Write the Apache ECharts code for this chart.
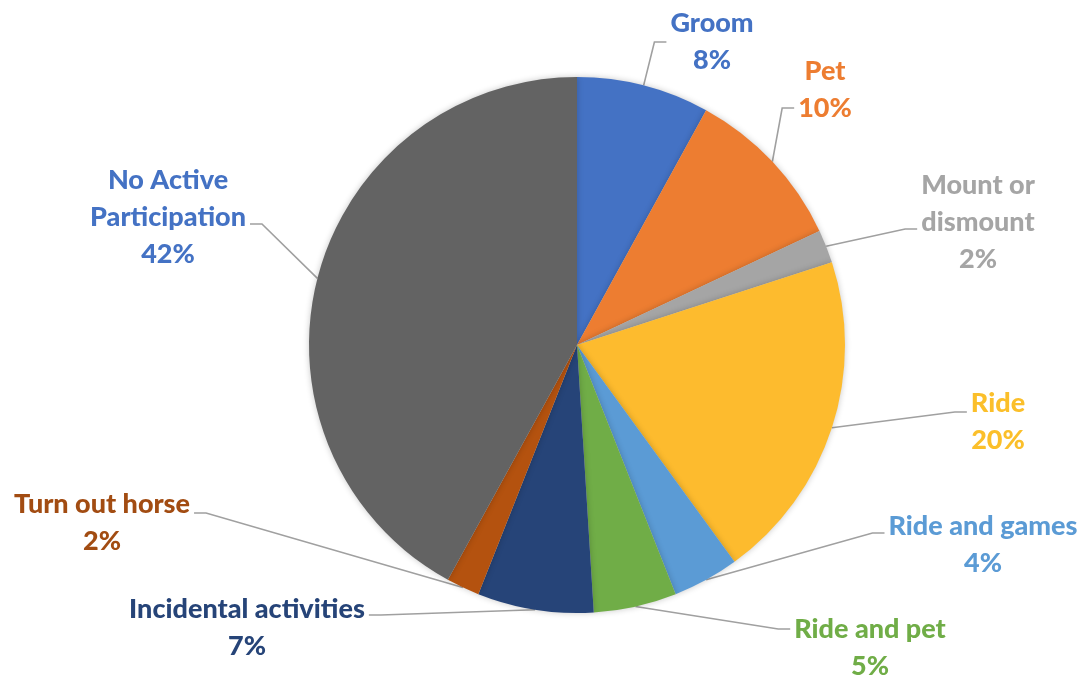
<!DOCTYPE html>
<html><head><meta charset="utf-8">
<script src="https://cdn.jsdelivr.net/npm/echarts@6/dist/echarts.min.js"></script>
<style>html,body{margin:0;padding:0;background:#fff}#c{width:1089px;height:679px}</style>
</head><body><div id="c"></div>
<script>
// ---- data ----
const categories = ['Groom', 'Pet', 'Mount or\ndismount', 'Ride', 'Ride and games', 'Ride and pet', 'Incidental activities', 'Turn out horse', 'No Active\nParticipation'];
const values = [8, 10, 2, 20, 4, 5, 7, 2, 42];

// ---- styles ----
const sliceColors = ['#4472C4', '#ED7D31', '#A5A5A5', '#FDBB2E', '#5B9BD5', '#70AD47', '#264478', '#B4520F', '#636363'];
const labelColors = ['#4472C4', '#ED7D31', '#A5A5A5', '#FBBF2A', '#5B9BD5', '#70AD47', '#264478', '#A24C12', '#4472C4'];
// label placement: centre of label block, side where leader line attaches, vertical offset of attach point
const labelPlace = [
  { x: 712, y: 42,  side: 'left',  dy: 0 },
  { x: 825, y: 90,  side: 'left',  dy: 18 },
  { x: 978, y: 222, side: 'left',  dy: 7 },
  { x: 998, y: 422, side: 'left',  dy: -10 },
  { x: 983, y: 545, side: 'left',  dy: -12 },
  { x: 870, y: 648, side: 'left',  dy: -19 },
  { x: 247, y: 628, side: 'right', dy: -13 },
  { x: 102, y: 523, side: 'right', dy: -10 },
  { x: 168, y: 217, side: 'right', dy: 7 }
];

const chart = echarts.init(document.getElementById('c'));
chart.setOption({
  animation: false,
  backgroundColor: '#ffffff',
  series: [{
    type: 'pie',
    center: [577, 345],
    radius: 268,
    startAngle: 90,
    clockwise: true,
    data: categories.map((name, i) => ({
      name: name,
      value: values[i],
      itemStyle: { color: sliceColors[i] },
      label: { color: labelColors[i] }
    })),
    itemStyle: {
      borderWidth: 0,
      shadowBlur: 6,
      shadowColor: 'rgba(0,0,0,0.22)'
    },
    label: {
      show: true,
      position: 'outside',
      formatter: p => p.name + '\n' + p.value + '%',
      fontFamily: 'Lato',
      fontWeight: 900,
      fontSize: 27,
      lineHeight: 37,
      align: 'center'
    },
    labelLine: {
      show: true,
      length: 20,
      length2: 20,
      lineStyle: { color: '#A0A0A0', width: 1.6 }
    },
    labelLayout: function (p) {
      const s = labelPlace[p.dataIndex];
      const w = p.labelRect.width;
      const ex = s.side === 'left' ? s.x - w / 2 - 4 : s.x + w / 2 + 4;
      const ey = s.y + s.dy;
      const bx = s.side === 'left' ? ex - 12 : ex + 12;
      const p0 = p.labelLinePoints[0];
      return {
        x: s.x, y: s.y, align: 'center', verticalAlign: 'middle',
        labelLinePoints: [p0, [bx, ey], [ex, ey]]
      };
    }
  }]
});
</script>
</body></html>
